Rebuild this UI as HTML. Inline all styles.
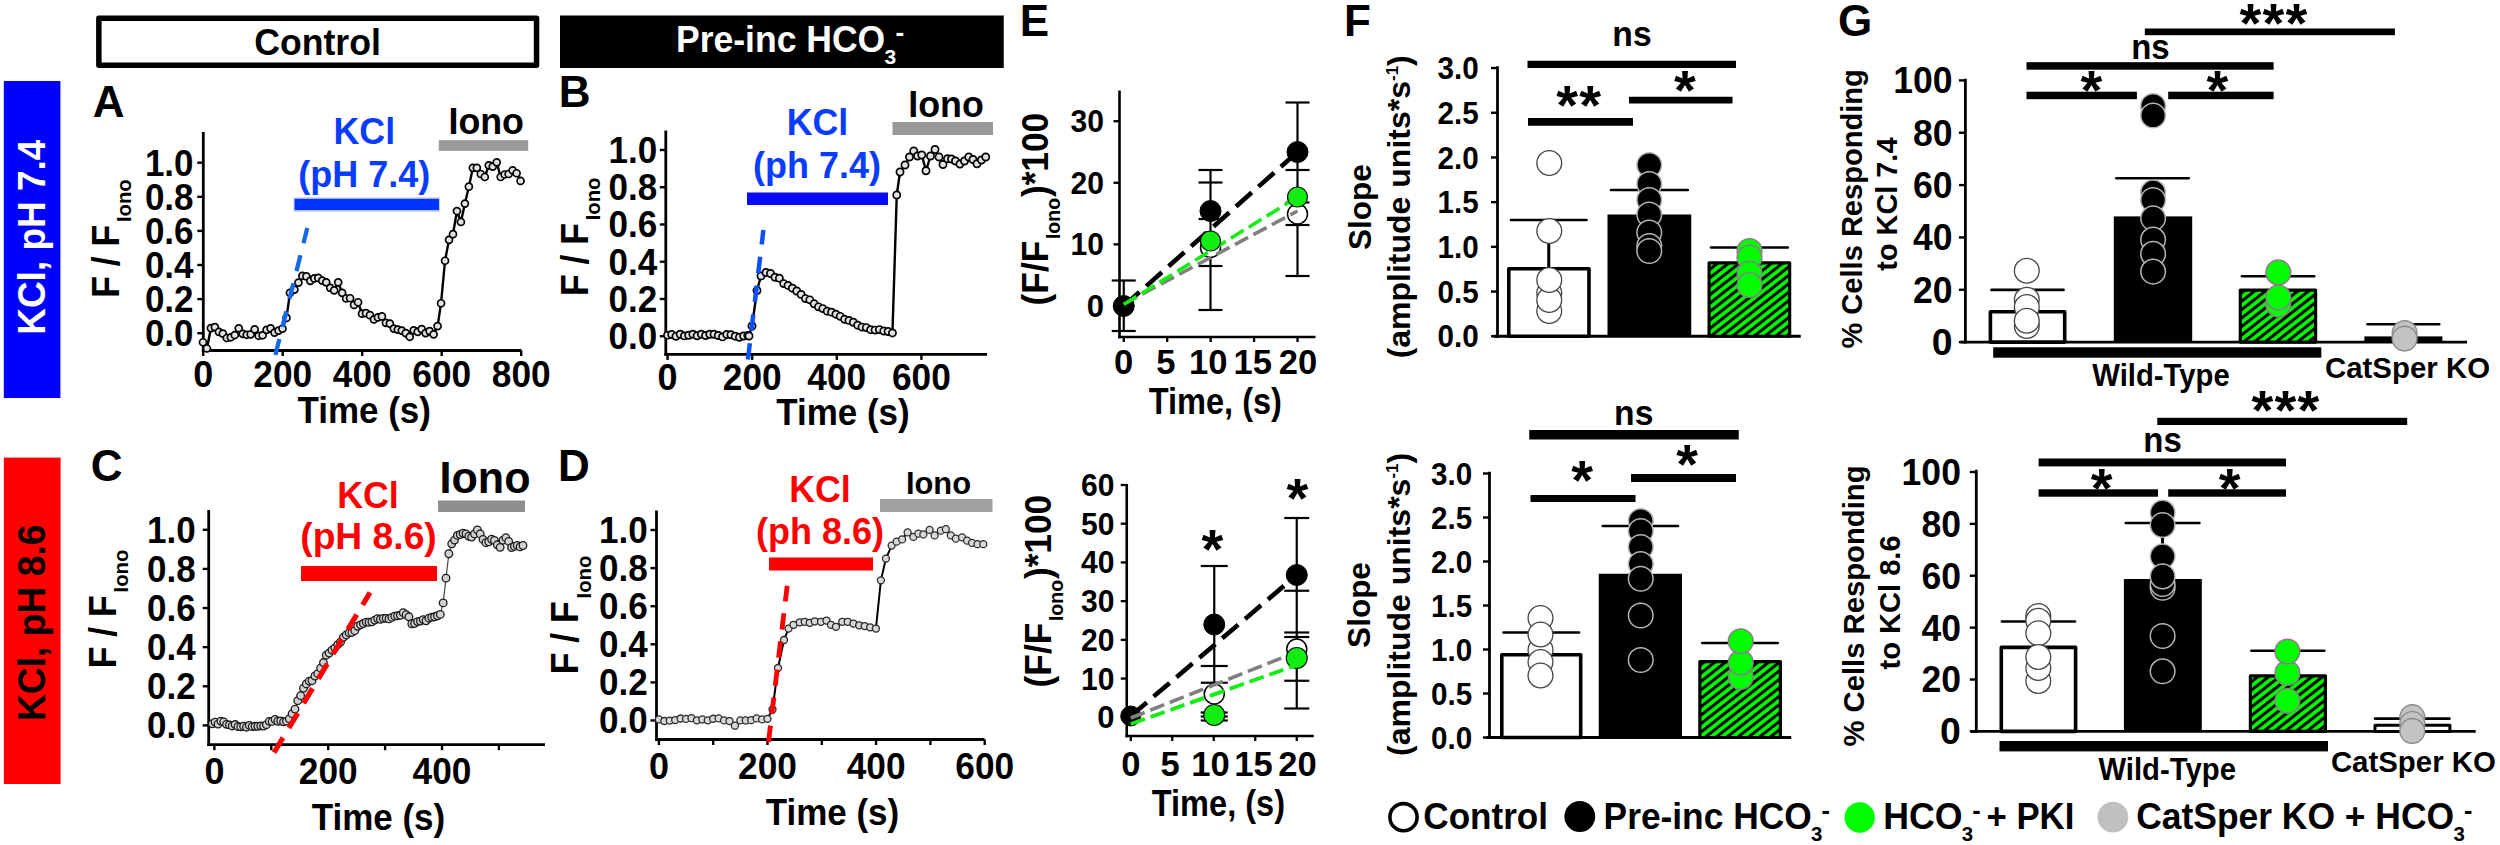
<!DOCTYPE html>
<html lang="en"><head><meta charset="utf-8"><title>Figure</title>
<style>
html,body{margin:0;padding:0;background:#fff;}
body{width:2500px;height:845px;overflow:hidden;}
svg{display:block;font-family:'Liberation Sans', sans-serif;}
text{font-family:'Liberation Sans', sans-serif;}
</style></head><body>
<svg width="2500" height="845" viewBox="0 0 2500 845">
<defs>
<pattern id="hatch" width="6.65" height="6.65" patternUnits="userSpaceOnUse" patternTransform="rotate(-38)">
<rect x="0" y="0" width="6.65" height="6.65" fill="#00fd00"/>
<rect x="0" y="0" width="6.65" height="3" fill="#000"/>
</pattern>
</defs>
<rect x="0" y="0" width="2500" height="845" fill="#fff"/>
<rect x="98.85" y="18.25" width="437.7" height="47" fill="#fff" stroke="#000" stroke-width="5.5" stroke-linejoin="round"/>
<text x="317.5" y="54.7" font-size="36" text-anchor="middle" fill="#000" font-weight="bold" textLength="126.69" lengthAdjust="spacingAndGlyphs">Control</text>
<rect x="560" y="15.5" width="443.75" height="52.5" fill="#000"/>
<text x="676" y="51.6" font-size="37" font-weight="bold" fill="#fff" textLength="209.22" lengthAdjust="spacingAndGlyphs">Pre-inc HCO</text>
<text x="884.62" y="64.2" font-size="21" font-weight="bold" fill="#fff">3</text>
<text x="895.4" y="41" font-size="26" font-weight="bold" fill="#fff">-</text>
<rect x="3.8" y="81" width="56.6" height="317" fill="#0000fe"/>
<text x="0" y="0" font-size="38" text-anchor="middle" fill="#fff" font-weight="bold" transform="translate(45.2,237.2) rotate(-90)" textLength="195.18" lengthAdjust="spacingAndGlyphs">KCl, pH 7.4</text>
<rect x="3.8" y="457.6" width="56.8" height="326.4" fill="#fe0000"/>
<text x="0" y="0" font-size="38" text-anchor="middle" fill="#000" font-weight="bold" transform="translate(45.4,622.8) rotate(-90)" textLength="196.58" lengthAdjust="spacingAndGlyphs">KCl, pH 8.6</text>
<text x="92.8" y="116.9" font-size="44" text-anchor="start" fill="#000" font-weight="bold">A</text>
<text x="558.8" y="106.6" font-size="44" text-anchor="start" fill="#000" font-weight="bold">B</text>
<text x="90.8" y="481.2" font-size="44" text-anchor="start" fill="#000" font-weight="bold">C</text>
<text x="558.1" y="480.7" font-size="44" text-anchor="start" fill="#000" font-weight="bold">D</text>
<text x="1019.8" y="35.8" font-size="44" text-anchor="start" fill="#000" font-weight="bold">E</text>
<text x="1343.9" y="35.5" font-size="44" text-anchor="start" fill="#000" font-weight="bold">F</text>
<text x="1838" y="35.5" font-size="44" text-anchor="start" fill="#000" font-weight="bold">G</text>
<line x1="203.3" y1="132" x2="203.3" y2="351.9" stroke="#000" stroke-width="2.8"/>
<line x1="201.9" y1="350.5" x2="521.5" y2="350.5" stroke="#000" stroke-width="2.8"/>
<line x1="197.3" y1="333.2" x2="203.3" y2="333.2" stroke="#000" stroke-width="2.4"/>
<text x="193.6" y="346.1" font-size="36.5" text-anchor="end" fill="#000" font-weight="bold" textLength="48.71" lengthAdjust="spacingAndGlyphs">0.0</text>
<line x1="197.3" y1="299.1" x2="203.3" y2="299.1" stroke="#000" stroke-width="2.4"/>
<text x="193.6" y="312" font-size="36.5" text-anchor="end" fill="#000" font-weight="bold" textLength="48.71" lengthAdjust="spacingAndGlyphs">0.2</text>
<line x1="197.3" y1="265" x2="203.3" y2="265" stroke="#000" stroke-width="2.4"/>
<text x="193.6" y="277.9" font-size="36.5" text-anchor="end" fill="#000" font-weight="bold" textLength="48.71" lengthAdjust="spacingAndGlyphs">0.4</text>
<line x1="197.3" y1="230.9" x2="203.3" y2="230.9" stroke="#000" stroke-width="2.4"/>
<text x="193.6" y="243.8" font-size="36.5" text-anchor="end" fill="#000" font-weight="bold" textLength="48.71" lengthAdjust="spacingAndGlyphs">0.6</text>
<line x1="197.3" y1="196.8" x2="203.3" y2="196.8" stroke="#000" stroke-width="2.4"/>
<text x="193.6" y="209.7" font-size="36.5" text-anchor="end" fill="#000" font-weight="bold" textLength="48.71" lengthAdjust="spacingAndGlyphs">0.8</text>
<line x1="197.3" y1="162.7" x2="203.3" y2="162.7" stroke="#000" stroke-width="2.4"/>
<text x="193.6" y="175.6" font-size="36.5" text-anchor="end" fill="#000" font-weight="bold" textLength="48.71" lengthAdjust="spacingAndGlyphs">1.0</text>
<line x1="203.2" y1="350.5" x2="203.2" y2="356" stroke="#000" stroke-width="2.4"/>
<line x1="282.7" y1="350.5" x2="282.7" y2="356" stroke="#000" stroke-width="2.4"/>
<line x1="362.2" y1="350.5" x2="362.2" y2="356" stroke="#000" stroke-width="2.4"/>
<line x1="441.7" y1="350.5" x2="441.7" y2="356" stroke="#000" stroke-width="2.4"/>
<line x1="521.2" y1="350.5" x2="521.2" y2="356" stroke="#000" stroke-width="2.4"/>
<text x="203.2" y="386.8" font-size="36" text-anchor="middle" fill="#000" font-weight="bold">0</text>
<text x="282.7" y="386.8" font-size="36" text-anchor="middle" fill="#000" font-weight="bold" textLength="58.86" lengthAdjust="spacingAndGlyphs">200</text>
<text x="362.2" y="386.8" font-size="36" text-anchor="middle" fill="#000" font-weight="bold" textLength="58.86" lengthAdjust="spacingAndGlyphs">400</text>
<text x="441.7" y="386.8" font-size="36" text-anchor="middle" fill="#000" font-weight="bold" textLength="58.86" lengthAdjust="spacingAndGlyphs">600</text>
<text x="521.2" y="386.8" font-size="36" text-anchor="middle" fill="#000" font-weight="bold" textLength="58.86" lengthAdjust="spacingAndGlyphs">800</text>
<text x="364.2" y="422.8" font-size="37" text-anchor="middle" fill="#000" font-weight="bold" textLength="133.42" lengthAdjust="spacingAndGlyphs">Time (s)</text>
<g transform="translate(118.8,297.8) rotate(-90)" font-weight="bold" fill="#000">
<text x="0" y="0" font-size="39" textLength="72.94" lengthAdjust="spacingAndGlyphs">F / F</text>
<text x="75.74" y="12.4" font-size="19.5" textLength="42.8" lengthAdjust="spacingAndGlyphs">Iono</text>
</g>
<text x="364.3" y="144.2" font-size="36.5" text-anchor="middle" fill="#0a3cff" font-weight="bold" textLength="61.6" lengthAdjust="spacingAndGlyphs">KCl</text>
<text x="364.3" y="187" font-size="36" text-anchor="middle" fill="#0a3cff" font-weight="bold">(pH 7.4)</text>
<rect x="293.5" y="197.2" width="146.5" height="14.8" fill="#c8d4ff"/>
<rect x="294.5" y="198.8" width="144.5" height="11.3" fill="#0035ff"/>
<text x="486.2" y="134.3" font-size="36.5" text-anchor="middle" fill="#000" font-weight="bold" textLength="75.49" lengthAdjust="spacingAndGlyphs">Iono</text>
<rect x="438.8" y="140.2" width="89.4" height="10.7" fill="#9a9a9a"/>
<polyline points="202.98,342.25 206.96,348.46 210.93,328.08 214.91,327.09 218.89,331.81 222.86,333.55 226.84,338.02 230.82,337.28 234.79,335.04 238.77,328.33 242.74,333.8 246.72,334.79 250.7,334.3 254.67,329.33 258.65,335.79 262.62,335.29 266.6,329.82 270.58,328.33 274.55,332.56 278.53,330.57 282.5,328.58 286.48,317.9 289.96,292.8 294.43,289.57 298.41,282.61 302.39,275.9 306.36,276.39 310.34,280.87 314.31,278.38 318.29,277.89 322.27,280.62 326.24,282.36 330.22,287.83 334.19,290.31 338.17,282.36 342.15,292.8 346.12,298.51 350.1,298.26 354.08,304.97 358.05,302.24 362.03,313.67 366,313.17 369.98,315.16 373.96,319.39 377.93,317.4 381.91,316.4 385.88,322.87 389.86,323.61 393.84,328.58 397.81,329.57 401.79,330.57 405.77,333.05 409.74,336.78 413.72,330.32 417.69,331.81 421.67,329.08 425.65,333.05 429.62,331.07 433.6,334.3 437.57,326.1 441.05,303.23 445.03,260.74 449.01,239.86 452.98,234.15 456.96,211.04 460.93,221.97 464.91,203.58 468.89,186.68 472.86,167.8 476.84,167.8 480.82,174.01 484.79,176.99 488.77,165.31 492.74,166.55 496.72,162.33 500.7,176.99 504.67,174.51 508.65,174.01 512.62,170.28 516.6,173.26 520.58,180.97" fill="none" stroke="#000" stroke-width="2.4" stroke-linejoin="round"/>
<g fill="#e2e2e2" stroke="#000" stroke-width="1.7">
<circle cx="202.98" cy="342.25" r="3.5"/>
<circle cx="206.96" cy="348.46" r="3.5"/>
<circle cx="210.93" cy="328.08" r="3.5"/>
<circle cx="214.91" cy="327.09" r="3.5"/>
<circle cx="218.89" cy="331.81" r="3.5"/>
<circle cx="222.86" cy="333.55" r="3.5"/>
<circle cx="226.84" cy="338.02" r="3.5"/>
<circle cx="230.82" cy="337.28" r="3.5"/>
<circle cx="234.79" cy="335.04" r="3.5"/>
<circle cx="238.77" cy="328.33" r="3.5"/>
<circle cx="242.74" cy="333.8" r="3.5"/>
<circle cx="246.72" cy="334.79" r="3.5"/>
<circle cx="250.7" cy="334.3" r="3.5"/>
<circle cx="254.67" cy="329.33" r="3.5"/>
<circle cx="258.65" cy="335.79" r="3.5"/>
<circle cx="262.62" cy="335.29" r="3.5"/>
<circle cx="266.6" cy="329.82" r="3.5"/>
<circle cx="270.58" cy="328.33" r="3.5"/>
<circle cx="274.55" cy="332.56" r="3.5"/>
<circle cx="278.53" cy="330.57" r="3.5"/>
<circle cx="282.5" cy="328.58" r="3.5"/>
<circle cx="286.48" cy="317.9" r="3.5"/>
<circle cx="289.96" cy="292.8" r="3.5"/>
<circle cx="294.43" cy="289.57" r="3.5"/>
<circle cx="298.41" cy="282.61" r="3.5"/>
<circle cx="302.39" cy="275.9" r="3.5"/>
<circle cx="306.36" cy="276.39" r="3.5"/>
<circle cx="310.34" cy="280.87" r="3.5"/>
<circle cx="314.31" cy="278.38" r="3.5"/>
<circle cx="318.29" cy="277.89" r="3.5"/>
<circle cx="322.27" cy="280.62" r="3.5"/>
<circle cx="326.24" cy="282.36" r="3.5"/>
<circle cx="330.22" cy="287.83" r="3.5"/>
<circle cx="334.19" cy="290.31" r="3.5"/>
<circle cx="338.17" cy="282.36" r="3.5"/>
<circle cx="342.15" cy="292.8" r="3.5"/>
<circle cx="346.12" cy="298.51" r="3.5"/>
<circle cx="350.1" cy="298.26" r="3.5"/>
<circle cx="354.08" cy="304.97" r="3.5"/>
<circle cx="358.05" cy="302.24" r="3.5"/>
<circle cx="362.03" cy="313.67" r="3.5"/>
<circle cx="366" cy="313.17" r="3.5"/>
<circle cx="369.98" cy="315.16" r="3.5"/>
<circle cx="373.96" cy="319.39" r="3.5"/>
<circle cx="377.93" cy="317.4" r="3.5"/>
<circle cx="381.91" cy="316.4" r="3.5"/>
<circle cx="385.88" cy="322.87" r="3.5"/>
<circle cx="389.86" cy="323.61" r="3.5"/>
<circle cx="393.84" cy="328.58" r="3.5"/>
<circle cx="397.81" cy="329.57" r="3.5"/>
<circle cx="401.79" cy="330.57" r="3.5"/>
<circle cx="405.77" cy="333.05" r="3.5"/>
<circle cx="409.74" cy="336.78" r="3.5"/>
<circle cx="413.72" cy="330.32" r="3.5"/>
<circle cx="417.69" cy="331.81" r="3.5"/>
<circle cx="421.67" cy="329.08" r="3.5"/>
<circle cx="425.65" cy="333.05" r="3.5"/>
<circle cx="429.62" cy="331.07" r="3.5"/>
<circle cx="433.6" cy="334.3" r="3.5"/>
<circle cx="437.57" cy="326.1" r="3.5"/>
<circle cx="441.05" cy="303.23" r="3.5"/>
<circle cx="445.03" cy="260.74" r="3.5"/>
<circle cx="449.01" cy="239.86" r="3.5"/>
<circle cx="452.98" cy="234.15" r="3.5"/>
<circle cx="456.96" cy="211.04" r="3.5"/>
<circle cx="460.93" cy="221.97" r="3.5"/>
<circle cx="464.91" cy="203.58" r="3.5"/>
<circle cx="468.89" cy="186.68" r="3.5"/>
<circle cx="472.86" cy="167.8" r="3.5"/>
<circle cx="476.84" cy="167.8" r="3.5"/>
<circle cx="480.82" cy="174.01" r="3.5"/>
<circle cx="484.79" cy="176.99" r="3.5"/>
<circle cx="488.77" cy="165.31" r="3.5"/>
<circle cx="492.74" cy="166.55" r="3.5"/>
<circle cx="496.72" cy="162.33" r="3.5"/>
<circle cx="500.7" cy="176.99" r="3.5"/>
<circle cx="504.67" cy="174.51" r="3.5"/>
<circle cx="508.65" cy="174.01" r="3.5"/>
<circle cx="512.62" cy="170.28" r="3.5"/>
<circle cx="516.6" cy="173.26" r="3.5"/>
<circle cx="520.58" cy="180.97" r="3.5"/>
</g>
<line x1="275.4" y1="354.9" x2="307.3" y2="228" stroke="#1468ee" stroke-width="4.3" stroke-dasharray="16.3 12.5"/>
<line x1="665.8" y1="130.5" x2="665.8" y2="355.8" stroke="#000" stroke-width="2.8"/>
<line x1="664.4" y1="354.4" x2="987" y2="354.4" stroke="#000" stroke-width="2.8"/>
<line x1="659.8" y1="336.2" x2="665.8" y2="336.2" stroke="#000" stroke-width="2.4"/>
<text x="657.3" y="349.1" font-size="36.5" text-anchor="end" fill="#000" font-weight="bold" textLength="48.71" lengthAdjust="spacingAndGlyphs">0.0</text>
<line x1="659.8" y1="298.96" x2="665.8" y2="298.96" stroke="#000" stroke-width="2.4"/>
<text x="657.3" y="311.86" font-size="36.5" text-anchor="end" fill="#000" font-weight="bold" textLength="48.71" lengthAdjust="spacingAndGlyphs">0.2</text>
<line x1="659.8" y1="261.72" x2="665.8" y2="261.72" stroke="#000" stroke-width="2.4"/>
<text x="657.3" y="274.62" font-size="36.5" text-anchor="end" fill="#000" font-weight="bold" textLength="48.71" lengthAdjust="spacingAndGlyphs">0.4</text>
<line x1="659.8" y1="224.48" x2="665.8" y2="224.48" stroke="#000" stroke-width="2.4"/>
<text x="657.3" y="237.38" font-size="36.5" text-anchor="end" fill="#000" font-weight="bold" textLength="48.71" lengthAdjust="spacingAndGlyphs">0.6</text>
<line x1="659.8" y1="187.24" x2="665.8" y2="187.24" stroke="#000" stroke-width="2.4"/>
<text x="657.3" y="200.14" font-size="36.5" text-anchor="end" fill="#000" font-weight="bold" textLength="48.71" lengthAdjust="spacingAndGlyphs">0.8</text>
<line x1="659.8" y1="150" x2="665.8" y2="150" stroke="#000" stroke-width="2.4"/>
<text x="657.3" y="162.9" font-size="36.5" text-anchor="end" fill="#000" font-weight="bold" textLength="48.71" lengthAdjust="spacingAndGlyphs">1.0</text>
<line x1="667.6" y1="354.4" x2="667.6" y2="359.9" stroke="#000" stroke-width="2.4"/>
<line x1="752.2" y1="354.4" x2="752.2" y2="359.9" stroke="#000" stroke-width="2.4"/>
<line x1="836.8" y1="354.4" x2="836.8" y2="359.9" stroke="#000" stroke-width="2.4"/>
<line x1="921.4" y1="354.4" x2="921.4" y2="359.9" stroke="#000" stroke-width="2.4"/>
<text x="667.6" y="389.5" font-size="36" text-anchor="middle" fill="#000" font-weight="bold">0</text>
<text x="752.2" y="389.5" font-size="36" text-anchor="middle" fill="#000" font-weight="bold" textLength="58.86" lengthAdjust="spacingAndGlyphs">200</text>
<text x="836.8" y="389.5" font-size="36" text-anchor="middle" fill="#000" font-weight="bold" textLength="58.86" lengthAdjust="spacingAndGlyphs">400</text>
<text x="921.4" y="389.5" font-size="36" text-anchor="middle" fill="#000" font-weight="bold" textLength="58.86" lengthAdjust="spacingAndGlyphs">600</text>
<text x="843" y="425" font-size="37" text-anchor="middle" fill="#000" font-weight="bold" textLength="133.42" lengthAdjust="spacingAndGlyphs">Time (s)</text>
<g transform="translate(587.9,296.1) rotate(-90)" font-weight="bold" fill="#000">
<text x="0" y="0" font-size="39" textLength="72.94" lengthAdjust="spacingAndGlyphs">F / F</text>
<text x="75.74" y="12.4" font-size="19.5" textLength="42.8" lengthAdjust="spacingAndGlyphs">Iono</text>
</g>
<text x="817.5" y="135" font-size="36.5" text-anchor="middle" fill="#0a3cff" font-weight="bold" textLength="61.6" lengthAdjust="spacingAndGlyphs">KCl</text>
<text x="817" y="178" font-size="36" text-anchor="middle" fill="#0a3cff" font-weight="bold">(ph 7.4)</text>
<rect x="747" y="192.5" width="141" height="12.5" fill="#0a0af5"/>
<text x="946" y="117" font-size="36.5" text-anchor="middle" fill="#000" font-weight="bold" textLength="75.49" lengthAdjust="spacingAndGlyphs">Iono</text>
<rect x="892.5" y="122" width="100.5" height="13" fill="#999"/>
<polyline points="667.5,335.13 671.73,334.53 675.96,336.28 680.19,334.25 684.42,335.88 688.65,335.28 692.88,334.2 697.11,335.78 701.34,334.13 705.57,335.52 709.8,334.24 714.03,334.32 718.26,335.49 722.49,336.89 726.72,334.43 730.95,334.78 735.18,336.2 739.41,337.32 743.64,336.02 747.87,335.39 749,336 752,326 757,290.5 761,276 766,272.5 770.5,273.5 775,277.24 779.35,278.16 783.7,283.6 788.05,285.46 792.4,288.18 796.75,291.01 801.1,294.4 805.45,298.62 809.8,299.87 814.15,303.81 818.5,306.86 822.85,308.59 827.2,311.22 831.55,312.14 835.9,314.21 840.25,316.34 844.6,319.31 848.95,320.39 853.3,322.23 857.65,325.2 862,327.12 866.35,327.62 870.7,329.63 875.05,330.11 879.4,329.59 883.75,331.03 888.1,331.48 892.45,332.97 896.75,195 900,172 905,165 909.5,157 913.75,151 917.5,156 921.75,155 926,170.75 930.5,156 935,149.5 939,157 943,164.5 947.5,158.75 951.5,159 955.5,161 960,164 964.5,161 968.75,157 973,159.5 977,163.75 981.5,160 985.75,157" fill="none" stroke="#000" stroke-width="2.4" stroke-linejoin="round"/>
<g fill="#e2e2e2" stroke="#000" stroke-width="1.7">
<circle cx="667.5" cy="335.13" r="3.6"/>
<circle cx="671.73" cy="334.53" r="3.6"/>
<circle cx="675.96" cy="336.28" r="3.6"/>
<circle cx="680.19" cy="334.25" r="3.6"/>
<circle cx="684.42" cy="335.88" r="3.6"/>
<circle cx="688.65" cy="335.28" r="3.6"/>
<circle cx="692.88" cy="334.2" r="3.6"/>
<circle cx="697.11" cy="335.78" r="3.6"/>
<circle cx="701.34" cy="334.13" r="3.6"/>
<circle cx="705.57" cy="335.52" r="3.6"/>
<circle cx="709.8" cy="334.24" r="3.6"/>
<circle cx="714.03" cy="334.32" r="3.6"/>
<circle cx="718.26" cy="335.49" r="3.6"/>
<circle cx="722.49" cy="336.89" r="3.6"/>
<circle cx="726.72" cy="334.43" r="3.6"/>
<circle cx="730.95" cy="334.78" r="3.6"/>
<circle cx="735.18" cy="336.2" r="3.6"/>
<circle cx="739.41" cy="337.32" r="3.6"/>
<circle cx="743.64" cy="336.02" r="3.6"/>
<circle cx="747.87" cy="335.39" r="3.6"/>
<circle cx="749" cy="336" r="3.6"/>
<circle cx="752" cy="326" r="3.6"/>
<circle cx="757" cy="290.5" r="3.6"/>
<circle cx="761" cy="276" r="3.6"/>
<circle cx="766" cy="272.5" r="3.6"/>
<circle cx="770.5" cy="273.5" r="3.6"/>
<circle cx="775" cy="277.24" r="3.6"/>
<circle cx="779.35" cy="278.16" r="3.6"/>
<circle cx="783.7" cy="283.6" r="3.6"/>
<circle cx="788.05" cy="285.46" r="3.6"/>
<circle cx="792.4" cy="288.18" r="3.6"/>
<circle cx="796.75" cy="291.01" r="3.6"/>
<circle cx="801.1" cy="294.4" r="3.6"/>
<circle cx="805.45" cy="298.62" r="3.6"/>
<circle cx="809.8" cy="299.87" r="3.6"/>
<circle cx="814.15" cy="303.81" r="3.6"/>
<circle cx="818.5" cy="306.86" r="3.6"/>
<circle cx="822.85" cy="308.59" r="3.6"/>
<circle cx="827.2" cy="311.22" r="3.6"/>
<circle cx="831.55" cy="312.14" r="3.6"/>
<circle cx="835.9" cy="314.21" r="3.6"/>
<circle cx="840.25" cy="316.34" r="3.6"/>
<circle cx="844.6" cy="319.31" r="3.6"/>
<circle cx="848.95" cy="320.39" r="3.6"/>
<circle cx="853.3" cy="322.23" r="3.6"/>
<circle cx="857.65" cy="325.2" r="3.6"/>
<circle cx="862" cy="327.12" r="3.6"/>
<circle cx="866.35" cy="327.62" r="3.6"/>
<circle cx="870.7" cy="329.63" r="3.6"/>
<circle cx="875.05" cy="330.11" r="3.6"/>
<circle cx="879.4" cy="329.59" r="3.6"/>
<circle cx="883.75" cy="331.03" r="3.6"/>
<circle cx="888.1" cy="331.48" r="3.6"/>
<circle cx="892.45" cy="332.97" r="3.6"/>
<circle cx="896.75" cy="195" r="3.6"/>
<circle cx="900" cy="172" r="3.6"/>
<circle cx="905" cy="165" r="3.6"/>
<circle cx="909.5" cy="157" r="3.6"/>
<circle cx="913.75" cy="151" r="3.6"/>
<circle cx="917.5" cy="156" r="3.6"/>
<circle cx="921.75" cy="155" r="3.6"/>
<circle cx="926" cy="170.75" r="3.6"/>
<circle cx="930.5" cy="156" r="3.6"/>
<circle cx="935" cy="149.5" r="3.6"/>
<circle cx="939" cy="157" r="3.6"/>
<circle cx="943" cy="164.5" r="3.6"/>
<circle cx="947.5" cy="158.75" r="3.6"/>
<circle cx="951.5" cy="159" r="3.6"/>
<circle cx="955.5" cy="161" r="3.6"/>
<circle cx="960" cy="164" r="3.6"/>
<circle cx="964.5" cy="161" r="3.6"/>
<circle cx="968.75" cy="157" r="3.6"/>
<circle cx="973" cy="159.5" r="3.6"/>
<circle cx="977" cy="163.75" r="3.6"/>
<circle cx="981.5" cy="160" r="3.6"/>
<circle cx="985.75" cy="157" r="3.6"/>
</g>
<line x1="747.9" y1="359.6" x2="763.4" y2="230" stroke="#0a50ff" stroke-width="4.5" stroke-dasharray="16.5 12.5"/>
<line x1="208.7" y1="510" x2="208.7" y2="746.1" stroke="#000" stroke-width="2.8"/>
<line x1="207.3" y1="744.7" x2="545" y2="744.7" stroke="#000" stroke-width="2.8"/>
<line x1="202.7" y1="725.4" x2="208.7" y2="725.4" stroke="#000" stroke-width="2.4"/>
<text x="195.8" y="738.3" font-size="36.5" text-anchor="end" fill="#000" font-weight="bold" textLength="48.71" lengthAdjust="spacingAndGlyphs">0.0</text>
<line x1="202.7" y1="686.28" x2="208.7" y2="686.28" stroke="#000" stroke-width="2.4"/>
<text x="195.8" y="699.18" font-size="36.5" text-anchor="end" fill="#000" font-weight="bold" textLength="48.71" lengthAdjust="spacingAndGlyphs">0.2</text>
<line x1="202.7" y1="647.16" x2="208.7" y2="647.16" stroke="#000" stroke-width="2.4"/>
<text x="195.8" y="660.06" font-size="36.5" text-anchor="end" fill="#000" font-weight="bold" textLength="48.71" lengthAdjust="spacingAndGlyphs">0.4</text>
<line x1="202.7" y1="608.04" x2="208.7" y2="608.04" stroke="#000" stroke-width="2.4"/>
<text x="195.8" y="620.94" font-size="36.5" text-anchor="end" fill="#000" font-weight="bold" textLength="48.71" lengthAdjust="spacingAndGlyphs">0.6</text>
<line x1="202.7" y1="568.92" x2="208.7" y2="568.92" stroke="#000" stroke-width="2.4"/>
<text x="195.8" y="581.82" font-size="36.5" text-anchor="end" fill="#000" font-weight="bold" textLength="48.71" lengthAdjust="spacingAndGlyphs">0.8</text>
<line x1="202.7" y1="529.8" x2="208.7" y2="529.8" stroke="#000" stroke-width="2.4"/>
<text x="195.8" y="542.7" font-size="36.5" text-anchor="end" fill="#000" font-weight="bold" textLength="48.71" lengthAdjust="spacingAndGlyphs">1.0</text>
<line x1="214.4" y1="744.7" x2="214.4" y2="750.2" stroke="#000" stroke-width="2.4"/>
<line x1="271.3" y1="744.7" x2="271.3" y2="750.2" stroke="#000" stroke-width="2.4"/>
<line x1="328.2" y1="744.7" x2="328.2" y2="750.2" stroke="#000" stroke-width="2.4"/>
<line x1="385.1" y1="744.7" x2="385.1" y2="750.2" stroke="#000" stroke-width="2.4"/>
<line x1="442" y1="744.7" x2="442" y2="750.2" stroke="#000" stroke-width="2.4"/>
<line x1="498.9" y1="744.7" x2="498.9" y2="750.2" stroke="#000" stroke-width="2.4"/>
<text x="214.4" y="783.5" font-size="36" text-anchor="middle" fill="#000" font-weight="bold">0</text>
<text x="328.2" y="783.5" font-size="36" text-anchor="middle" fill="#000" font-weight="bold" textLength="58.86" lengthAdjust="spacingAndGlyphs">200</text>
<text x="442" y="783.5" font-size="36" text-anchor="middle" fill="#000" font-weight="bold" textLength="58.86" lengthAdjust="spacingAndGlyphs">400</text>
<text x="378.5" y="830" font-size="37" text-anchor="middle" fill="#000" font-weight="bold" textLength="133.42" lengthAdjust="spacingAndGlyphs">Time (s)</text>
<g transform="translate(115.8,668.2) rotate(-90)" font-weight="bold" fill="#000">
<text x="0" y="0" font-size="39" textLength="72.94" lengthAdjust="spacingAndGlyphs">F / F</text>
<text x="75.74" y="12.4" font-size="19.5" textLength="42.8" lengthAdjust="spacingAndGlyphs">Iono</text>
</g>
<text x="368" y="507.5" font-size="36.5" text-anchor="middle" fill="#fe0000" font-weight="bold" textLength="61.6" lengthAdjust="spacingAndGlyphs">KCl</text>
<text x="368.5" y="548.5" font-size="36.5" text-anchor="middle" fill="#fe0000" font-weight="bold" textLength="136.52" lengthAdjust="spacingAndGlyphs">(pH 8.6)</text>
<rect x="301" y="566" width="136" height="15" fill="#fe0000"/>
<text x="485" y="492.5" font-size="44" text-anchor="middle" fill="#000" font-weight="bold" textLength="91" lengthAdjust="spacingAndGlyphs">Iono</text>
<rect x="438" y="500.5" width="87" height="11.5" fill="#8e8e8e"/>
<polyline points="212.3,723.73 215.15,722.1 218,724.09 220.85,721.1 223.7,721.84 226.55,724.37 229.4,724.89 232.25,725.96 235.1,724.53 237.95,726.54 240.8,726.85 243.65,726.23 246.5,727.2 249.35,725.4 252.2,726.62 255.05,726.3 257.9,726.26 260.75,725.86 263.6,726.09 266.45,724.64 269.3,721.35 272.15,721.41 275,719.33 277.85,721.23 280.7,720.91 283.55,721.86 286.4,721.17 289.25,718.83 292.1,713.68 294.95,709.1 297.8,700.72 300.65,695.65 303.5,688.24 306.35,683.94 309.2,681.09 312.05,680.69 314.9,675.98 317.75,673.69 320.6,668.18 323.45,662.57 326.3,655.19 329.15,653.07 332,650.09 334.85,647.86 337.7,644.72 340.55,642.01 343.4,637.29 346.25,634.95 349.1,632.78 351.95,632.46 354.8,630.7 357.65,626.24 360.5,624.84 363.35,623.53 366.2,622.1 369.05,622.21 371.9,621.86 374.75,620.12 377.6,618.61 380.45,619.24 383.3,618.4 386.15,618.34 389,618.9 391.85,617.38 394.7,616.14 397.55,615.79 400.4,615.3 403.25,612.63 406.1,614.66 408.95,616.8 411.8,623.73 414.65,623.45 417.5,621.6 420.35,621.08 423.2,619.59 426.05,620.75 428.9,618.21 431.75,617.3 434.6,616.82 437.45,615.75 440.3,614.44 443.15,602.92 446,578.13 448.85,553.74 451.7,543.79 454.55,540.11 457.4,535.4 460.25,534.49 463.1,533.23 465.95,533.83 468.8,536.24 471.65,537.05 474.5,533.88 477.35,529.89 480.2,533.91 483.05,539.39 485.9,542.72 488.75,541.77 491.6,539.27 494.45,540.51 497.3,544.78 500.15,547.37 503,540.2 505.85,537.64 508.7,541.39 511.55,547.5 514.4,546.39 517.25,545.4 520.1,546.9 522.95,545.48" fill="none" stroke="#444" stroke-width="1.2" stroke-linejoin="round"/>
<g fill="#d0d0d0" stroke="#1a1a1a" stroke-width="1.3">
<circle cx="212.3" cy="723.73" r="3.8"/>
<circle cx="215.15" cy="722.1" r="3.8"/>
<circle cx="218" cy="724.09" r="3.8"/>
<circle cx="220.85" cy="721.1" r="3.8"/>
<circle cx="223.7" cy="721.84" r="3.8"/>
<circle cx="226.55" cy="724.37" r="3.8"/>
<circle cx="229.4" cy="724.89" r="3.8"/>
<circle cx="232.25" cy="725.96" r="3.8"/>
<circle cx="235.1" cy="724.53" r="3.8"/>
<circle cx="237.95" cy="726.54" r="3.8"/>
<circle cx="240.8" cy="726.85" r="3.8"/>
<circle cx="243.65" cy="726.23" r="3.8"/>
<circle cx="246.5" cy="727.2" r="3.8"/>
<circle cx="249.35" cy="725.4" r="3.8"/>
<circle cx="252.2" cy="726.62" r="3.8"/>
<circle cx="255.05" cy="726.3" r="3.8"/>
<circle cx="257.9" cy="726.26" r="3.8"/>
<circle cx="260.75" cy="725.86" r="3.8"/>
<circle cx="263.6" cy="726.09" r="3.8"/>
<circle cx="266.45" cy="724.64" r="3.8"/>
<circle cx="269.3" cy="721.35" r="3.8"/>
<circle cx="272.15" cy="721.41" r="3.8"/>
<circle cx="275" cy="719.33" r="3.8"/>
<circle cx="277.85" cy="721.23" r="3.8"/>
<circle cx="280.7" cy="720.91" r="3.8"/>
<circle cx="283.55" cy="721.86" r="3.8"/>
<circle cx="286.4" cy="721.17" r="3.8"/>
<circle cx="289.25" cy="718.83" r="3.8"/>
<circle cx="292.1" cy="713.68" r="3.8"/>
<circle cx="294.95" cy="709.1" r="3.8"/>
<circle cx="297.8" cy="700.72" r="3.8"/>
<circle cx="300.65" cy="695.65" r="3.8"/>
<circle cx="303.5" cy="688.24" r="3.8"/>
<circle cx="306.35" cy="683.94" r="3.8"/>
<circle cx="309.2" cy="681.09" r="3.8"/>
<circle cx="312.05" cy="680.69" r="3.8"/>
<circle cx="314.9" cy="675.98" r="3.8"/>
<circle cx="317.75" cy="673.69" r="3.8"/>
<circle cx="320.6" cy="668.18" r="3.8"/>
<circle cx="323.45" cy="662.57" r="3.8"/>
<circle cx="326.3" cy="655.19" r="3.8"/>
<circle cx="329.15" cy="653.07" r="3.8"/>
<circle cx="332" cy="650.09" r="3.8"/>
<circle cx="334.85" cy="647.86" r="3.8"/>
<circle cx="337.7" cy="644.72" r="3.8"/>
<circle cx="340.55" cy="642.01" r="3.8"/>
<circle cx="343.4" cy="637.29" r="3.8"/>
<circle cx="346.25" cy="634.95" r="3.8"/>
<circle cx="349.1" cy="632.78" r="3.8"/>
<circle cx="351.95" cy="632.46" r="3.8"/>
<circle cx="354.8" cy="630.7" r="3.8"/>
<circle cx="357.65" cy="626.24" r="3.8"/>
<circle cx="360.5" cy="624.84" r="3.8"/>
<circle cx="363.35" cy="623.53" r="3.8"/>
<circle cx="366.2" cy="622.1" r="3.8"/>
<circle cx="369.05" cy="622.21" r="3.8"/>
<circle cx="371.9" cy="621.86" r="3.8"/>
<circle cx="374.75" cy="620.12" r="3.8"/>
<circle cx="377.6" cy="618.61" r="3.8"/>
<circle cx="380.45" cy="619.24" r="3.8"/>
<circle cx="383.3" cy="618.4" r="3.8"/>
<circle cx="386.15" cy="618.34" r="3.8"/>
<circle cx="389" cy="618.9" r="3.8"/>
<circle cx="391.85" cy="617.38" r="3.8"/>
<circle cx="394.7" cy="616.14" r="3.8"/>
<circle cx="397.55" cy="615.79" r="3.8"/>
<circle cx="400.4" cy="615.3" r="3.8"/>
<circle cx="403.25" cy="612.63" r="3.8"/>
<circle cx="406.1" cy="614.66" r="3.8"/>
<circle cx="408.95" cy="616.8" r="3.8"/>
<circle cx="411.8" cy="623.73" r="3.8"/>
<circle cx="414.65" cy="623.45" r="3.8"/>
<circle cx="417.5" cy="621.6" r="3.8"/>
<circle cx="420.35" cy="621.08" r="3.8"/>
<circle cx="423.2" cy="619.59" r="3.8"/>
<circle cx="426.05" cy="620.75" r="3.8"/>
<circle cx="428.9" cy="618.21" r="3.8"/>
<circle cx="431.75" cy="617.3" r="3.8"/>
<circle cx="434.6" cy="616.82" r="3.8"/>
<circle cx="437.45" cy="615.75" r="3.8"/>
<circle cx="440.3" cy="614.44" r="3.8"/>
<circle cx="443.15" cy="602.92" r="3.8"/>
<circle cx="446" cy="578.13" r="3.8"/>
<circle cx="448.85" cy="553.74" r="3.8"/>
<circle cx="451.7" cy="543.79" r="3.8"/>
<circle cx="454.55" cy="540.11" r="3.8"/>
<circle cx="457.4" cy="535.4" r="3.8"/>
<circle cx="460.25" cy="534.49" r="3.8"/>
<circle cx="463.1" cy="533.23" r="3.8"/>
<circle cx="465.95" cy="533.83" r="3.8"/>
<circle cx="468.8" cy="536.24" r="3.8"/>
<circle cx="471.65" cy="537.05" r="3.8"/>
<circle cx="474.5" cy="533.88" r="3.8"/>
<circle cx="477.35" cy="529.89" r="3.8"/>
<circle cx="480.2" cy="533.91" r="3.8"/>
<circle cx="483.05" cy="539.39" r="3.8"/>
<circle cx="485.9" cy="542.72" r="3.8"/>
<circle cx="488.75" cy="541.77" r="3.8"/>
<circle cx="491.6" cy="539.27" r="3.8"/>
<circle cx="494.45" cy="540.51" r="3.8"/>
<circle cx="497.3" cy="544.78" r="3.8"/>
<circle cx="500.15" cy="547.37" r="3.8"/>
<circle cx="503" cy="540.2" r="3.8"/>
<circle cx="505.85" cy="537.64" r="3.8"/>
<circle cx="508.7" cy="541.39" r="3.8"/>
<circle cx="511.55" cy="547.5" r="3.8"/>
<circle cx="514.4" cy="546.39" r="3.8"/>
<circle cx="517.25" cy="545.4" r="3.8"/>
<circle cx="520.1" cy="546.9" r="3.8"/>
<circle cx="522.95" cy="545.48" r="3.8"/>
</g>
<line x1="274.1" y1="752.5" x2="370" y2="592.5" stroke="#fe0000" stroke-width="5.2" stroke-dasharray="17.3 11.4"/>
<line x1="656.5" y1="510.5" x2="656.5" y2="740.9" stroke="#000" stroke-width="2.8"/>
<line x1="655.1" y1="739.5" x2="984.5" y2="739.5" stroke="#000" stroke-width="2.8"/>
<line x1="650.5" y1="720.5" x2="656.5" y2="720.5" stroke="#000" stroke-width="2.4"/>
<text x="647.8" y="733.4" font-size="36.5" text-anchor="end" fill="#000" font-weight="bold" textLength="48.71" lengthAdjust="spacingAndGlyphs">0.0</text>
<line x1="650.5" y1="682.4" x2="656.5" y2="682.4" stroke="#000" stroke-width="2.4"/>
<text x="647.8" y="695.3" font-size="36.5" text-anchor="end" fill="#000" font-weight="bold" textLength="48.71" lengthAdjust="spacingAndGlyphs">0.2</text>
<line x1="650.5" y1="644.3" x2="656.5" y2="644.3" stroke="#000" stroke-width="2.4"/>
<text x="647.8" y="657.2" font-size="36.5" text-anchor="end" fill="#000" font-weight="bold" textLength="48.71" lengthAdjust="spacingAndGlyphs">0.4</text>
<line x1="650.5" y1="606.2" x2="656.5" y2="606.2" stroke="#000" stroke-width="2.4"/>
<text x="647.8" y="619.1" font-size="36.5" text-anchor="end" fill="#000" font-weight="bold" textLength="48.71" lengthAdjust="spacingAndGlyphs">0.6</text>
<line x1="650.5" y1="568.1" x2="656.5" y2="568.1" stroke="#000" stroke-width="2.4"/>
<text x="647.8" y="581" font-size="36.5" text-anchor="end" fill="#000" font-weight="bold" textLength="48.71" lengthAdjust="spacingAndGlyphs">0.8</text>
<line x1="650.5" y1="530" x2="656.5" y2="530" stroke="#000" stroke-width="2.4"/>
<text x="647.8" y="542.9" font-size="36.5" text-anchor="end" fill="#000" font-weight="bold" textLength="48.71" lengthAdjust="spacingAndGlyphs">1.0</text>
<line x1="658.9" y1="739.5" x2="658.9" y2="745" stroke="#000" stroke-width="2.4"/>
<line x1="713.2" y1="739.5" x2="713.2" y2="745" stroke="#000" stroke-width="2.4"/>
<line x1="767.5" y1="739.5" x2="767.5" y2="745" stroke="#000" stroke-width="2.4"/>
<line x1="821.8" y1="739.5" x2="821.8" y2="745" stroke="#000" stroke-width="2.4"/>
<line x1="876.1" y1="739.5" x2="876.1" y2="745" stroke="#000" stroke-width="2.4"/>
<line x1="930.4" y1="739.5" x2="930.4" y2="745" stroke="#000" stroke-width="2.4"/>
<line x1="984.7" y1="739.5" x2="984.7" y2="745" stroke="#000" stroke-width="2.4"/>
<text x="658.9" y="779.2" font-size="36" text-anchor="middle" fill="#000" font-weight="bold">0</text>
<text x="767.5" y="779.2" font-size="36" text-anchor="middle" fill="#000" font-weight="bold" textLength="58.86" lengthAdjust="spacingAndGlyphs">200</text>
<text x="876.1" y="779.2" font-size="36" text-anchor="middle" fill="#000" font-weight="bold" textLength="58.86" lengthAdjust="spacingAndGlyphs">400</text>
<text x="984.7" y="779.2" font-size="36" text-anchor="middle" fill="#000" font-weight="bold" textLength="58.86" lengthAdjust="spacingAndGlyphs">600</text>
<text x="832.5" y="824.5" font-size="37" text-anchor="middle" fill="#000" font-weight="bold" textLength="133.42" lengthAdjust="spacingAndGlyphs">Time (s)</text>
<g transform="translate(578.4,674.2) rotate(-90)" font-weight="bold" fill="#000">
<text x="0" y="0" font-size="39" textLength="72.94" lengthAdjust="spacingAndGlyphs">F / F</text>
<text x="75.74" y="12.4" font-size="19.5" textLength="42.8" lengthAdjust="spacingAndGlyphs">Iono</text>
</g>
<text x="820" y="502" font-size="36.5" text-anchor="middle" fill="#fe0000" font-weight="bold" textLength="61.6" lengthAdjust="spacingAndGlyphs">KCl</text>
<text x="820" y="544" font-size="36" text-anchor="middle" fill="#fe0000" font-weight="bold">(ph 8.6)</text>
<rect x="769" y="557.5" width="104" height="13" fill="#fe0000"/>
<text x="938.5" y="494" font-size="31.5" text-anchor="middle" fill="#000" font-weight="bold" textLength="65.15" lengthAdjust="spacingAndGlyphs">Iono</text>
<rect x="880" y="499" width="112.5" height="13" fill="#a0a0a0"/>
<polyline points="658.9,719.45 664.33,721.02 669.76,720.62 675.19,720.04 680.62,718.51 686.05,718.88 691.48,718.18 696.91,720.3 702.34,719.46 707.77,720.33 713.2,718.75 718.63,718.38 724.06,720.44 729.49,721.05 734.92,725.7 740.35,720.42 745.78,720.46 751.21,720.19 756.64,718.39 762.07,719.41 767.5,718.84 772.5,709.5 778,668 784,640 788.5,628.54 793.5,624.8 799.74,622.3 804.74,621.8 809.73,622.8 814.73,621.3 820.97,621.8 826.46,620.55 830.96,624.8 835.95,626.79 842.2,621.8 847.69,621.8 853.44,623.55 859.18,625.29 864.68,626.04 870.17,627.29 875.91,628.54 880.91,580.34 885.9,558.61 891.65,545.62 896.64,541.63 902.14,539.38 907.63,532.39 913.38,536.88 918.37,533.64 923.37,534.39 929.61,529.89 934.61,535.38 940.85,530.64 945.84,529.14 950.84,535.38 955.83,538.63 962.08,537.38 967.07,540.63 972.07,542.88 977.56,544.13 983.31,544.13" fill="none" stroke="#000" stroke-width="2" stroke-linejoin="round"/>
<g fill="#d8d8d8" stroke="#2a2a2a" stroke-width="1.3">
<circle cx="658.9" cy="719.45" r="3.5"/>
<circle cx="664.33" cy="721.02" r="3.5"/>
<circle cx="669.76" cy="720.62" r="3.5"/>
<circle cx="675.19" cy="720.04" r="3.5"/>
<circle cx="680.62" cy="718.51" r="3.5"/>
<circle cx="686.05" cy="718.88" r="3.5"/>
<circle cx="691.48" cy="718.18" r="3.5"/>
<circle cx="696.91" cy="720.3" r="3.5"/>
<circle cx="702.34" cy="719.46" r="3.5"/>
<circle cx="707.77" cy="720.33" r="3.5"/>
<circle cx="713.2" cy="718.75" r="3.5"/>
<circle cx="718.63" cy="718.38" r="3.5"/>
<circle cx="724.06" cy="720.44" r="3.5"/>
<circle cx="729.49" cy="721.05" r="3.5"/>
<circle cx="734.92" cy="725.7" r="3.5"/>
<circle cx="740.35" cy="720.42" r="3.5"/>
<circle cx="745.78" cy="720.46" r="3.5"/>
<circle cx="751.21" cy="720.19" r="3.5"/>
<circle cx="756.64" cy="718.39" r="3.5"/>
<circle cx="762.07" cy="719.41" r="3.5"/>
<circle cx="767.5" cy="718.84" r="3.5"/>
<circle cx="772.5" cy="709.5" r="3.5"/>
<circle cx="778" cy="668" r="3.5"/>
<circle cx="784" cy="640" r="3.5"/>
<circle cx="788.5" cy="628.54" r="3.5"/>
<circle cx="793.5" cy="624.8" r="3.5"/>
<circle cx="799.74" cy="622.3" r="3.5"/>
<circle cx="804.74" cy="621.8" r="3.5"/>
<circle cx="809.73" cy="622.8" r="3.5"/>
<circle cx="814.73" cy="621.3" r="3.5"/>
<circle cx="820.97" cy="621.8" r="3.5"/>
<circle cx="826.46" cy="620.55" r="3.5"/>
<circle cx="830.96" cy="624.8" r="3.5"/>
<circle cx="835.95" cy="626.79" r="3.5"/>
<circle cx="842.2" cy="621.8" r="3.5"/>
<circle cx="847.69" cy="621.8" r="3.5"/>
<circle cx="853.44" cy="623.55" r="3.5"/>
<circle cx="859.18" cy="625.29" r="3.5"/>
<circle cx="864.68" cy="626.04" r="3.5"/>
<circle cx="870.17" cy="627.29" r="3.5"/>
<circle cx="875.91" cy="628.54" r="3.5"/>
<circle cx="880.91" cy="580.34" r="3.5"/>
<circle cx="885.9" cy="558.61" r="3.5"/>
<circle cx="891.65" cy="545.62" r="3.5"/>
<circle cx="896.64" cy="541.63" r="3.5"/>
<circle cx="902.14" cy="539.38" r="3.5"/>
<circle cx="907.63" cy="532.39" r="3.5"/>
<circle cx="913.38" cy="536.88" r="3.5"/>
<circle cx="918.37" cy="533.64" r="3.5"/>
<circle cx="923.37" cy="534.39" r="3.5"/>
<circle cx="929.61" cy="529.89" r="3.5"/>
<circle cx="934.61" cy="535.38" r="3.5"/>
<circle cx="940.85" cy="530.64" r="3.5"/>
<circle cx="945.84" cy="529.14" r="3.5"/>
<circle cx="950.84" cy="535.38" r="3.5"/>
<circle cx="955.83" cy="538.63" r="3.5"/>
<circle cx="962.08" cy="537.38" r="3.5"/>
<circle cx="967.07" cy="540.63" r="3.5"/>
<circle cx="972.07" cy="542.88" r="3.5"/>
<circle cx="977.56" cy="544.13" r="3.5"/>
<circle cx="983.31" cy="544.13" r="3.5"/>
</g>
<line x1="768.5" y1="742" x2="787.2" y2="585.7" stroke="#fe0000" stroke-width="4.8" stroke-dasharray="16.5 11.8"/>
<line x1="1119.5" y1="90.5" x2="1119.5" y2="338.3" stroke="#000" stroke-width="2.6"/>
<line x1="1118.2" y1="337" x2="1315.5" y2="337" stroke="#000" stroke-width="2.6"/>
<line x1="1113.5" y1="306" x2="1119.5" y2="306" stroke="#000" stroke-width="2.3"/>
<text x="1104" y="317" font-size="31" text-anchor="end" fill="#000" font-weight="bold">0</text>
<line x1="1113.5" y1="244.4" x2="1119.5" y2="244.4" stroke="#000" stroke-width="2.3"/>
<text x="1104" y="255.4" font-size="31" text-anchor="end" fill="#000" font-weight="bold" textLength="33.45" lengthAdjust="spacingAndGlyphs">10</text>
<line x1="1113.5" y1="182.8" x2="1119.5" y2="182.8" stroke="#000" stroke-width="2.3"/>
<text x="1104" y="193.8" font-size="31" text-anchor="end" fill="#000" font-weight="bold" textLength="33.45" lengthAdjust="spacingAndGlyphs">20</text>
<line x1="1113.5" y1="121.2" x2="1119.5" y2="121.2" stroke="#000" stroke-width="2.3"/>
<text x="1104" y="132.2" font-size="31" text-anchor="end" fill="#000" font-weight="bold" textLength="33.45" lengthAdjust="spacingAndGlyphs">30</text>
<line x1="1123.75" y1="337" x2="1123.75" y2="342" stroke="#000" stroke-width="2.3"/>
<line x1="1167.19" y1="337" x2="1167.19" y2="342" stroke="#000" stroke-width="2.3"/>
<line x1="1210.62" y1="337" x2="1210.62" y2="342" stroke="#000" stroke-width="2.3"/>
<line x1="1254.06" y1="337" x2="1254.06" y2="342" stroke="#000" stroke-width="2.3"/>
<line x1="1297.5" y1="337" x2="1297.5" y2="342" stroke="#000" stroke-width="2.3"/>
<text x="1123.6" y="373.5" font-size="34.6" text-anchor="middle" fill="#000" font-weight="bold">0</text>
<text x="1165.9" y="373.5" font-size="34.6" text-anchor="middle" fill="#000" font-weight="bold">5</text>
<text x="1208.3" y="373.5" font-size="34.6" text-anchor="middle" fill="#000" font-weight="bold">10</text>
<text x="1252.8" y="373.5" font-size="34.6" text-anchor="middle" fill="#000" font-weight="bold">15</text>
<text x="1298" y="373.5" font-size="34.6" text-anchor="middle" fill="#000" font-weight="bold">20</text>
<text x="1215.3" y="413.8" font-size="37" text-anchor="middle" fill="#000" font-weight="bold" textLength="133.29" lengthAdjust="spacingAndGlyphs">Time, (s)</text>
<g transform="translate(1047.8,305.4) rotate(-90)" font-weight="bold" fill="#000">
<text x="0" y="0" font-size="36" textLength="64.65" lengthAdjust="spacingAndGlyphs">(F/F</text>
<text x="66.35" y="11.7" font-size="19.5" textLength="41.15" lengthAdjust="spacingAndGlyphs">Iono</text>
<text x="108.3" y="0" font-size="36" textLength="84.34" lengthAdjust="spacingAndGlyphs">)*100</text>
</g>
<line x1="1123.75" y1="280.5" x2="1123.75" y2="331" stroke="#000" stroke-width="2.2"/>
<line x1="1111.75" y1="280.5" x2="1135.75" y2="280.5" stroke="#000" stroke-width="2.2"/>
<line x1="1111.75" y1="331" x2="1135.75" y2="331" stroke="#000" stroke-width="2.2"/>
<line x1="1210.5" y1="170" x2="1210.5" y2="310" stroke="#000" stroke-width="2.2"/>
<line x1="1198.5" y1="170" x2="1222.5" y2="170" stroke="#000" stroke-width="2.2"/>
<line x1="1198.5" y1="182.5" x2="1222.5" y2="182.5" stroke="#000" stroke-width="2.2"/>
<line x1="1198.5" y1="219" x2="1222.5" y2="219" stroke="#000" stroke-width="2.2"/>
<line x1="1198.5" y1="266" x2="1222.5" y2="266" stroke="#000" stroke-width="2.2"/>
<line x1="1198.5" y1="310" x2="1222.5" y2="310" stroke="#000" stroke-width="2.2"/>
<line x1="1297.5" y1="102.5" x2="1297.5" y2="276" stroke="#000" stroke-width="2.2"/>
<line x1="1285.5" y1="102.5" x2="1309.5" y2="102.5" stroke="#000" stroke-width="2.2"/>
<line x1="1285.5" y1="170" x2="1309.5" y2="170" stroke="#000" stroke-width="2.2"/>
<line x1="1285.5" y1="202.5" x2="1309.5" y2="202.5" stroke="#000" stroke-width="2.2"/>
<line x1="1285.5" y1="225" x2="1309.5" y2="225" stroke="#000" stroke-width="2.2"/>
<line x1="1285.5" y1="276" x2="1309.5" y2="276" stroke="#000" stroke-width="2.2"/>
<circle cx="1123.75" cy="306" r="10.5" fill="#000" stroke="#000" stroke-width="1"/>
<circle cx="1210.5" cy="247.5" r="10" fill="#fff" stroke="#000" stroke-width="1.5"/>
<circle cx="1297.5" cy="214" r="10" fill="#fff" stroke="#000" stroke-width="1.5"/>
<line x1="1123.75" y1="304" x2="1297.5" y2="211" stroke="#808080" stroke-width="3.6" stroke-dasharray="15 6"/>
<circle cx="1210.5" cy="211" r="10.5" fill="#000" stroke="#000" stroke-width="1"/>
<circle cx="1297.5" cy="152" r="10.5" fill="#000" stroke="#000" stroke-width="1"/>
<line x1="1123.75" y1="306" x2="1297.5" y2="152" stroke="#000" stroke-width="4.6" stroke-dasharray="21 9"/>
<line x1="1123.75" y1="304.5" x2="1297.5" y2="197" stroke="#12ee12" stroke-width="3.6" stroke-dasharray="15 6"/>
<circle cx="1210.5" cy="241" r="10" fill="#12ee12" stroke="#111" stroke-width="1.2"/>
<circle cx="1297.5" cy="197" r="10" fill="#12ee12" stroke="#111" stroke-width="1.2"/>
<line x1="1126.75" y1="484" x2="1126.75" y2="737.3" stroke="#000" stroke-width="2.6"/>
<line x1="1125.45" y1="736" x2="1313.75" y2="736" stroke="#000" stroke-width="2.6"/>
<line x1="1120.75" y1="717.3" x2="1126.75" y2="717.3" stroke="#000" stroke-width="2.3"/>
<text x="1114.5" y="728.3" font-size="31" text-anchor="end" fill="#000" font-weight="bold">0</text>
<line x1="1120.75" y1="678.58" x2="1126.75" y2="678.58" stroke="#000" stroke-width="2.3"/>
<text x="1114.5" y="689.58" font-size="31" text-anchor="end" fill="#000" font-weight="bold" textLength="33.45" lengthAdjust="spacingAndGlyphs">10</text>
<line x1="1120.75" y1="639.86" x2="1126.75" y2="639.86" stroke="#000" stroke-width="2.3"/>
<text x="1114.5" y="650.86" font-size="31" text-anchor="end" fill="#000" font-weight="bold" textLength="33.45" lengthAdjust="spacingAndGlyphs">20</text>
<line x1="1120.75" y1="601.14" x2="1126.75" y2="601.14" stroke="#000" stroke-width="2.3"/>
<text x="1114.5" y="612.14" font-size="31" text-anchor="end" fill="#000" font-weight="bold" textLength="33.45" lengthAdjust="spacingAndGlyphs">30</text>
<line x1="1120.75" y1="562.42" x2="1126.75" y2="562.42" stroke="#000" stroke-width="2.3"/>
<text x="1114.5" y="573.42" font-size="31" text-anchor="end" fill="#000" font-weight="bold" textLength="33.45" lengthAdjust="spacingAndGlyphs">40</text>
<line x1="1120.75" y1="523.7" x2="1126.75" y2="523.7" stroke="#000" stroke-width="2.3"/>
<text x="1114.5" y="534.7" font-size="31" text-anchor="end" fill="#000" font-weight="bold" textLength="33.45" lengthAdjust="spacingAndGlyphs">50</text>
<line x1="1120.75" y1="484.98" x2="1126.75" y2="484.98" stroke="#000" stroke-width="2.3"/>
<text x="1114.5" y="495.98" font-size="31" text-anchor="end" fill="#000" font-weight="bold" textLength="33.45" lengthAdjust="spacingAndGlyphs">60</text>
<line x1="1130.75" y1="736" x2="1130.75" y2="741" stroke="#000" stroke-width="2.3"/>
<line x1="1172.25" y1="736" x2="1172.25" y2="741" stroke="#000" stroke-width="2.3"/>
<line x1="1213.75" y1="736" x2="1213.75" y2="741" stroke="#000" stroke-width="2.3"/>
<line x1="1255.25" y1="736" x2="1255.25" y2="741" stroke="#000" stroke-width="2.3"/>
<line x1="1296.75" y1="736" x2="1296.75" y2="741" stroke="#000" stroke-width="2.3"/>
<text x="1130.75" y="775.5" font-size="34.6" text-anchor="middle" fill="#000" font-weight="bold">0</text>
<text x="1170" y="775.5" font-size="34.6" text-anchor="middle" fill="#000" font-weight="bold">5</text>
<text x="1210.5" y="775.5" font-size="34.6" text-anchor="middle" fill="#000" font-weight="bold">10</text>
<text x="1253.5" y="775.5" font-size="34.6" text-anchor="middle" fill="#000" font-weight="bold">15</text>
<text x="1297.5" y="775.5" font-size="34.6" text-anchor="middle" fill="#000" font-weight="bold">20</text>
<text x="1218.4" y="816" font-size="37" text-anchor="middle" fill="#000" font-weight="bold" textLength="133.29" lengthAdjust="spacingAndGlyphs">Time, (s)</text>
<g transform="translate(1051,687.4) rotate(-90)" font-weight="bold" fill="#000">
<text x="0" y="0" font-size="36" textLength="64.65" lengthAdjust="spacingAndGlyphs">(F/F</text>
<text x="66.35" y="11.7" font-size="19.5" textLength="41.15" lengthAdjust="spacingAndGlyphs">Iono</text>
<text x="108.3" y="0" font-size="36" textLength="84.34" lengthAdjust="spacingAndGlyphs">)*100</text>
</g>
<line x1="1214.25" y1="566" x2="1214.25" y2="682.75" stroke="#000" stroke-width="2.2"/>
<line x1="1200.75" y1="566" x2="1227.75" y2="566" stroke="#000" stroke-width="2.2"/>
<line x1="1200.75" y1="666" x2="1227.75" y2="666" stroke="#000" stroke-width="2.2"/>
<line x1="1200.75" y1="682.75" x2="1227.75" y2="682.75" stroke="#000" stroke-width="2.2"/>
<line x1="1214.25" y1="712.5" x2="1214.25" y2="720.5" stroke="#000" stroke-width="2.2"/>
<line x1="1200.75" y1="712.5" x2="1227.75" y2="712.5" stroke="#000" stroke-width="2.2"/>
<line x1="1200.75" y1="716.5" x2="1227.75" y2="716.5" stroke="#000" stroke-width="2.2"/>
<line x1="1200.75" y1="720.5" x2="1227.75" y2="720.5" stroke="#000" stroke-width="2.2"/>
<line x1="1296.75" y1="518" x2="1296.75" y2="708.5" stroke="#000" stroke-width="2.2"/>
<line x1="1284.25" y1="518" x2="1309.25" y2="518" stroke="#000" stroke-width="2.2"/>
<line x1="1284.25" y1="590.75" x2="1309.25" y2="590.75" stroke="#000" stroke-width="2.2"/>
<line x1="1284.25" y1="632.5" x2="1309.25" y2="632.5" stroke="#000" stroke-width="2.2"/>
<line x1="1284.25" y1="637" x2="1309.25" y2="637" stroke="#000" stroke-width="2.2"/>
<line x1="1284.25" y1="680.75" x2="1309.25" y2="680.75" stroke="#000" stroke-width="2.2"/>
<line x1="1284.25" y1="708.5" x2="1309.25" y2="708.5" stroke="#000" stroke-width="2.2"/>
<circle cx="1130.75" cy="716" r="10" fill="#000" stroke="#000" stroke-width="1"/>
<circle cx="1214.25" cy="694" r="10" fill="#fff" stroke="#000" stroke-width="1.5"/>
<circle cx="1296.75" cy="649" r="10" fill="#fff" stroke="#000" stroke-width="1.5"/>
<line x1="1130.75" y1="716" x2="1296.75" y2="575" stroke="#000" stroke-width="4.6" stroke-dasharray="21 9"/>
<circle cx="1214.25" cy="624.5" r="10.5" fill="#000" stroke="#000" stroke-width="1"/>
<circle cx="1296.75" cy="575" r="10.5" fill="#000" stroke="#000" stroke-width="1"/>
<line x1="1130.75" y1="718" x2="1296.75" y2="652" stroke="#808080" stroke-width="3.6" stroke-dasharray="15 6"/>
<circle cx="1214.25" cy="715" r="10.5" fill="#12ee12" stroke="#111" stroke-width="1.2"/>
<circle cx="1296.75" cy="658" r="10.5" fill="#12ee12" stroke="#111" stroke-width="1.2"/>
<line x1="1130.75" y1="724" x2="1296.75" y2="665" stroke="#12ee12" stroke-width="3.8" stroke-dasharray="15 6"/>
<text x="1212.5" y="567.52" font-size="56" text-anchor="middle" fill="#000" font-weight="bold">*</text>
<text x="1297.5" y="516.52" font-size="56" text-anchor="middle" fill="#000" font-weight="bold">*</text>
<line x1="1497.5" y1="66.3" x2="1497.5" y2="337.65" stroke="#000" stroke-width="2.8"/>
<line x1="1493.75" y1="336.25" x2="1800.75" y2="336.25" stroke="#000" stroke-width="2.8"/>
<line x1="1491" y1="336.25" x2="1497.5" y2="336.25" stroke="#000" stroke-width="2.4"/>
<text x="1478.6" y="347.35" font-size="31.5" text-anchor="end" fill="#000" font-weight="bold" textLength="41.16" lengthAdjust="spacingAndGlyphs">0.0</text>
<line x1="1491" y1="291.55" x2="1497.5" y2="291.55" stroke="#000" stroke-width="2.4"/>
<text x="1478.6" y="302.65" font-size="31.5" text-anchor="end" fill="#000" font-weight="bold" textLength="41.16" lengthAdjust="spacingAndGlyphs">0.5</text>
<line x1="1491" y1="246.85" x2="1497.5" y2="246.85" stroke="#000" stroke-width="2.4"/>
<text x="1478.6" y="257.95" font-size="31.5" text-anchor="end" fill="#000" font-weight="bold" textLength="41.16" lengthAdjust="spacingAndGlyphs">1.0</text>
<line x1="1491" y1="202.15" x2="1497.5" y2="202.15" stroke="#000" stroke-width="2.4"/>
<text x="1478.6" y="213.25" font-size="31.5" text-anchor="end" fill="#000" font-weight="bold" textLength="41.16" lengthAdjust="spacingAndGlyphs">1.5</text>
<line x1="1491" y1="157.45" x2="1497.5" y2="157.45" stroke="#000" stroke-width="2.4"/>
<text x="1478.6" y="168.55" font-size="31.5" text-anchor="end" fill="#000" font-weight="bold" textLength="41.16" lengthAdjust="spacingAndGlyphs">2.0</text>
<line x1="1491" y1="112.75" x2="1497.5" y2="112.75" stroke="#000" stroke-width="2.4"/>
<text x="1478.6" y="123.85" font-size="31.5" text-anchor="end" fill="#000" font-weight="bold" textLength="41.16" lengthAdjust="spacingAndGlyphs">2.5</text>
<line x1="1491" y1="68.05" x2="1497.5" y2="68.05" stroke="#000" stroke-width="2.4"/>
<text x="1478.6" y="79.15" font-size="31.5" text-anchor="end" fill="#000" font-weight="bold" textLength="41.16" lengthAdjust="spacingAndGlyphs">3.0</text>
<rect x="1508.8" y="268.8" width="80.15" height="67.45" fill="#fff" stroke="#000" stroke-width="3.6" stroke-linejoin="round"/>
<rect x="1607.5" y="214.5" width="83.75" height="121.75" fill="#000"/>
<rect x="1709.1" y="262.85" width="80.55" height="73.4" fill="url(#hatch)" stroke="#000" stroke-width="3.2" stroke-linejoin="round"/>
<line x1="1511" y1="220" x2="1586.5" y2="220" stroke="#000" stroke-width="2.6" stroke-linecap="round"/>
<line x1="1548.75" y1="220" x2="1548.75" y2="267" stroke="#000" stroke-width="3"/>
<line x1="1611" y1="190" x2="1687.75" y2="190" stroke="#000" stroke-width="2.6" stroke-linecap="round"/>
<line x1="1649.38" y1="190" x2="1649.38" y2="214.5" stroke="#000" stroke-width="3"/>
<line x1="1711" y1="247.5" x2="1787.75" y2="247.5" stroke="#000" stroke-width="2.6" stroke-linecap="round"/>
<line x1="1749.38" y1="247.5" x2="1749.38" y2="261.25" stroke="#000" stroke-width="3"/>
<circle cx="1549.25" cy="311" r="12.4" fill="#fff" stroke="#444" stroke-width="1.3"/>
<circle cx="1549.25" cy="293" r="12.4" fill="#fff" stroke="#444" stroke-width="1.3"/>
<circle cx="1549.25" cy="300" r="12.4" fill="#fff" stroke="#444" stroke-width="1.3"/>
<circle cx="1549.25" cy="280" r="12.4" fill="#fff" stroke="#444" stroke-width="1.3"/>
<circle cx="1549.25" cy="231" r="12.4" fill="#fff" stroke="#444" stroke-width="1.3"/>
<circle cx="1549.25" cy="163" r="12.4" fill="#fff" stroke="#444" stroke-width="1.3"/>
<circle cx="1649.25" cy="165" r="12.3" fill="#000" stroke="#b4b4b4" stroke-width="1.5"/>
<circle cx="1649.25" cy="184" r="12.3" fill="#000" stroke="#b4b4b4" stroke-width="1.5"/>
<circle cx="1649.25" cy="200" r="12.3" fill="#000" stroke="#b4b4b4" stroke-width="1.5"/>
<circle cx="1649.25" cy="214.5" r="12.3" fill="#000" stroke="#b4b4b4" stroke-width="1.5"/>
<circle cx="1649.25" cy="232.5" r="12.3" fill="#000" stroke="#b4b4b4" stroke-width="1.5"/>
<circle cx="1649.25" cy="246" r="12.3" fill="#000" stroke="#b4b4b4" stroke-width="1.5"/>
<circle cx="1649.25" cy="251" r="12.3" fill="#000" stroke="#b4b4b4" stroke-width="1.5"/>
<circle cx="1749.5" cy="251" r="12.4" fill="#00fd00" stroke="#9a709a" stroke-width="1.4"/>
<circle cx="1749.5" cy="257.5" r="12.4" fill="#00fd00" stroke="#9a709a" stroke-width="1.4"/>
<circle cx="1749.5" cy="273.75" r="12.4" fill="#00fd00" stroke="#9a709a" stroke-width="1.4"/>
<circle cx="1749.5" cy="285" r="12.4" fill="#00fd00" stroke="#9a709a" stroke-width="1.4"/>
<rect x="1527.5" y="60.75" width="208.5" height="7.25" fill="#000"/>
<text x="1632" y="46" font-size="34.7" text-anchor="middle" fill="#000" font-weight="bold" textLength="39.28" lengthAdjust="spacingAndGlyphs">ns</text>
<text x="1579.2" y="123.72" font-size="56" text-anchor="middle" fill="#000" font-weight="bold" letter-spacing="1.2">**</text>
<rect x="1528" y="118" width="105" height="7.75" fill="#000"/>
<text x="1684.8" y="109.12" font-size="56" text-anchor="middle" fill="#000" font-weight="bold">*</text>
<rect x="1629" y="96.75" width="103.5" height="6.75" fill="#000"/>
<text x="0" y="0" font-size="31.5" text-anchor="middle" fill="#000" font-weight="bold" transform="translate(1370.6,207.2) rotate(-90)">Slope</text>
<text transform="translate(1410.3,206.8) rotate(-90)" font-size="32" font-weight="bold" text-anchor="middle">(amplitude units*s<tspan font-size="17" dy="-12">-1</tspan><tspan dy="12">)</tspan></text>
<line x1="1489.5" y1="471.8" x2="1489.5" y2="738.9" stroke="#000" stroke-width="2.8"/>
<line x1="1486.25" y1="737.5" x2="1791.25" y2="737.5" stroke="#000" stroke-width="2.8"/>
<line x1="1483" y1="737.5" x2="1489.5" y2="737.5" stroke="#000" stroke-width="2.4"/>
<text x="1472.1" y="748.6" font-size="31.5" text-anchor="end" fill="#000" font-weight="bold" textLength="41.16" lengthAdjust="spacingAndGlyphs">0.0</text>
<line x1="1483" y1="693.5" x2="1489.5" y2="693.5" stroke="#000" stroke-width="2.4"/>
<text x="1472.1" y="704.6" font-size="31.5" text-anchor="end" fill="#000" font-weight="bold" textLength="41.16" lengthAdjust="spacingAndGlyphs">0.5</text>
<line x1="1483" y1="649.5" x2="1489.5" y2="649.5" stroke="#000" stroke-width="2.4"/>
<text x="1472.1" y="660.6" font-size="31.5" text-anchor="end" fill="#000" font-weight="bold" textLength="41.16" lengthAdjust="spacingAndGlyphs">1.0</text>
<line x1="1483" y1="605.5" x2="1489.5" y2="605.5" stroke="#000" stroke-width="2.4"/>
<text x="1472.1" y="616.6" font-size="31.5" text-anchor="end" fill="#000" font-weight="bold" textLength="41.16" lengthAdjust="spacingAndGlyphs">1.5</text>
<line x1="1483" y1="561.5" x2="1489.5" y2="561.5" stroke="#000" stroke-width="2.4"/>
<text x="1472.1" y="572.6" font-size="31.5" text-anchor="end" fill="#000" font-weight="bold" textLength="41.16" lengthAdjust="spacingAndGlyphs">2.0</text>
<line x1="1483" y1="517.5" x2="1489.5" y2="517.5" stroke="#000" stroke-width="2.4"/>
<text x="1472.1" y="528.6" font-size="31.5" text-anchor="end" fill="#000" font-weight="bold" textLength="41.16" lengthAdjust="spacingAndGlyphs">2.5</text>
<line x1="1483" y1="473.5" x2="1489.5" y2="473.5" stroke="#000" stroke-width="2.4"/>
<text x="1472.1" y="484.6" font-size="31.5" text-anchor="end" fill="#000" font-weight="bold" textLength="41.16" lengthAdjust="spacingAndGlyphs">3.0</text>
<rect x="1501.8" y="654.8" width="78.9" height="82.7" fill="#fff" stroke="#000" stroke-width="3.6" stroke-linejoin="round"/>
<rect x="1598.75" y="573.75" width="83.25" height="163.75" fill="#000"/>
<rect x="1699.85" y="661.6" width="80.55" height="75.9" fill="url(#hatch)" stroke="#000" stroke-width="3.2" stroke-linejoin="round"/>
<line x1="1503.5" y1="632.5" x2="1579" y2="632.5" stroke="#000" stroke-width="2.6" stroke-linecap="round"/>
<line x1="1541.25" y1="632.5" x2="1541.25" y2="653" stroke="#000" stroke-width="3"/>
<line x1="1602.75" y1="526" x2="1678" y2="526" stroke="#000" stroke-width="2.6" stroke-linecap="round"/>
<line x1="1640.38" y1="526" x2="1640.38" y2="573.75" stroke="#000" stroke-width="3"/>
<line x1="1702.25" y1="643" x2="1777.75" y2="643" stroke="#000" stroke-width="2.6" stroke-linecap="round"/>
<line x1="1740" y1="643" x2="1740" y2="660" stroke="#000" stroke-width="3"/>
<circle cx="1540.5" cy="618" r="12.4" fill="#fff" stroke="#444" stroke-width="1.3"/>
<circle cx="1540.5" cy="650" r="12.4" fill="#fff" stroke="#444" stroke-width="1.3"/>
<circle cx="1540.5" cy="662" r="12.4" fill="#fff" stroke="#444" stroke-width="1.3"/>
<circle cx="1540.5" cy="675.5" r="12.4" fill="#fff" stroke="#444" stroke-width="1.3"/>
<circle cx="1540.5" cy="634.5" r="12.4" fill="#fff" stroke="#444" stroke-width="1.3"/>
<circle cx="1640.75" cy="521" r="12.3" fill="#000" stroke="#b4b4b4" stroke-width="1.5"/>
<circle cx="1640.75" cy="531" r="12.3" fill="#000" stroke="#b4b4b4" stroke-width="1.5"/>
<circle cx="1640.75" cy="547" r="12.3" fill="#000" stroke="#b4b4b4" stroke-width="1.5"/>
<circle cx="1640.75" cy="564" r="12.3" fill="#000" stroke="#b4b4b4" stroke-width="1.5"/>
<circle cx="1640.75" cy="578.75" r="12.3" fill="#000" stroke="#b4b4b4" stroke-width="1.5"/>
<circle cx="1640.75" cy="615.5" r="12.3" fill="#000" stroke="#b4b4b4" stroke-width="1.5"/>
<circle cx="1640.75" cy="660" r="12.3" fill="#000" stroke="#b4b4b4" stroke-width="1.5"/>
<circle cx="1740.75" cy="677" r="12.4" fill="#00fd00" stroke="#9a709a" stroke-width="1.4"/>
<circle cx="1740.75" cy="662.5" r="12.4" fill="#00fd00" stroke="#9a709a" stroke-width="1.4"/>
<circle cx="1740.75" cy="641.25" r="12.4" fill="#00fd00" stroke="#9a709a" stroke-width="1.4"/>
<rect x="1529.25" y="430" width="209.5" height="9.5" fill="#000"/>
<text x="1633.75" y="424.5" font-size="34.7" text-anchor="middle" fill="#000" font-weight="bold" textLength="39.28" lengthAdjust="spacingAndGlyphs">ns</text>
<text x="1582.25" y="498.82" font-size="56" text-anchor="middle" fill="#000" font-weight="bold">*</text>
<rect x="1530.5" y="495" width="105" height="7" fill="#000"/>
<text x="1687.25" y="483.32" font-size="56" text-anchor="middle" fill="#000" font-weight="bold">*</text>
<rect x="1631" y="474" width="105" height="8" fill="#000"/>
<text x="0" y="0" font-size="31.5" text-anchor="middle" fill="#000" font-weight="bold" transform="translate(1369.8,605) rotate(-90)">Slope</text>
<text transform="translate(1410.3,604.4) rotate(-90)" font-size="32" font-weight="bold" text-anchor="middle">(amplitude units*s<tspan font-size="17" dy="-12">-1</tspan><tspan dy="12">)</tspan></text>
<line x1="1965.4" y1="78.8" x2="1965.4" y2="343.5" stroke="#000" stroke-width="2.8"/>
<line x1="1960.7" y1="342.1" x2="2467" y2="342.1" stroke="#000" stroke-width="2.8"/>
<line x1="1958.9" y1="342.1" x2="1965.4" y2="342.1" stroke="#000" stroke-width="2.4"/>
<text x="1952.6" y="355" font-size="37.4" text-anchor="end" fill="#000" font-weight="bold">0</text>
<line x1="1958.9" y1="289.76" x2="1965.4" y2="289.76" stroke="#000" stroke-width="2.4"/>
<text x="1952.6" y="302.66" font-size="37.4" text-anchor="end" fill="#000" font-weight="bold" textLength="39.52" lengthAdjust="spacingAndGlyphs">20</text>
<line x1="1958.9" y1="237.42" x2="1965.4" y2="237.42" stroke="#000" stroke-width="2.4"/>
<text x="1952.6" y="250.32" font-size="37.4" text-anchor="end" fill="#000" font-weight="bold" textLength="39.52" lengthAdjust="spacingAndGlyphs">40</text>
<line x1="1958.9" y1="185.08" x2="1965.4" y2="185.08" stroke="#000" stroke-width="2.4"/>
<text x="1952.6" y="197.98" font-size="37.4" text-anchor="end" fill="#000" font-weight="bold" textLength="39.52" lengthAdjust="spacingAndGlyphs">60</text>
<line x1="1958.9" y1="132.74" x2="1965.4" y2="132.74" stroke="#000" stroke-width="2.4"/>
<text x="1952.6" y="145.64" font-size="37.4" text-anchor="end" fill="#000" font-weight="bold" textLength="39.52" lengthAdjust="spacingAndGlyphs">80</text>
<line x1="1958.9" y1="80.4" x2="1965.4" y2="80.4" stroke="#000" stroke-width="2.4"/>
<text x="1952.6" y="93.3" font-size="37.4" text-anchor="end" fill="#000" font-weight="bold" textLength="59.28" lengthAdjust="spacingAndGlyphs">100</text>
<rect x="1990.4" y="311.7" width="74.3" height="30.4" fill="#fff" stroke="#000" stroke-width="3.6" stroke-linejoin="round"/>
<rect x="2113.8" y="216.4" width="78.4" height="125.7" fill="#000"/>
<rect x="2240.3" y="290.1" width="75.3" height="52" fill="url(#hatch)" stroke="#000" stroke-width="3.2" stroke-linejoin="round"/>
<rect x="2364.4" y="336.4" width="78" height="5.7" fill="#000"/>
<line x1="1991.5" y1="289.9" x2="2063.5" y2="289.9" stroke="#000" stroke-width="2.6" stroke-linecap="round"/>
<line x1="2027.5" y1="289.9" x2="2027.5" y2="309.9" stroke="#000" stroke-width="3"/>
<line x1="2116.4" y1="178.2" x2="2188.7" y2="178.2" stroke="#000" stroke-width="2.6" stroke-linecap="round"/>
<line x1="2152.55" y1="178.2" x2="2152.55" y2="216.4" stroke="#000" stroke-width="3"/>
<line x1="2241.9" y1="276.2" x2="2314.2" y2="276.2" stroke="#000" stroke-width="2.6" stroke-linecap="round"/>
<line x1="2278.05" y1="276.2" x2="2278.05" y2="288.5" stroke="#000" stroke-width="3"/>
<line x1="2367.4" y1="324.3" x2="2439.2" y2="324.3" stroke="#000" stroke-width="2.6" stroke-linecap="round"/>
<line x1="2403.3" y1="324.3" x2="2403.3" y2="336.4" stroke="#000" stroke-width="3"/>
<circle cx="2026.8" cy="270.8" r="12.4" fill="#fff" stroke="#444" stroke-width="1.3"/>
<circle cx="2026.8" cy="299.7" r="12.4" fill="#fff" stroke="#444" stroke-width="1.3"/>
<circle cx="2026.8" cy="307" r="12.4" fill="#fff" stroke="#444" stroke-width="1.3"/>
<circle cx="2026.8" cy="326" r="12.4" fill="#fff" stroke="#444" stroke-width="1.3"/>
<circle cx="2026.8" cy="320.8" r="12.4" fill="#fff" stroke="#444" stroke-width="1.3"/>
<circle cx="2153.1" cy="106" r="12.3" fill="#000" stroke="#b4b4b4" stroke-width="1.5"/>
<circle cx="2153.1" cy="115.5" r="12.3" fill="#000" stroke="#b4b4b4" stroke-width="1.5"/>
<circle cx="2153.1" cy="192.3" r="12.3" fill="#000" stroke="#b4b4b4" stroke-width="1.5"/>
<circle cx="2153.1" cy="200" r="12.3" fill="#000" stroke="#b4b4b4" stroke-width="1.5"/>
<circle cx="2153.1" cy="218.3" r="12.3" fill="#000" stroke="#b4b4b4" stroke-width="1.5"/>
<circle cx="2153.1" cy="239.6" r="12.3" fill="#000" stroke="#b4b4b4" stroke-width="1.5"/>
<circle cx="2153.1" cy="253.8" r="12.3" fill="#000" stroke="#b4b4b4" stroke-width="1.5"/>
<circle cx="2153.1" cy="271.6" r="12.3" fill="#000" stroke="#b4b4b4" stroke-width="1.5"/>
<circle cx="2278.3" cy="304.4" r="12.4" fill="#00fd00" stroke="#9a709a" stroke-width="1.4"/>
<circle cx="2278.3" cy="297.5" r="12.4" fill="#00fd00" stroke="#9a709a" stroke-width="1.4"/>
<circle cx="2278.3" cy="272.4" r="12.4" fill="#00fd00" stroke="#9a709a" stroke-width="1.4"/>
<circle cx="2404.6" cy="333.1" r="12.4" fill="#c3c3c3" stroke="#8c8c8c" stroke-width="1.4"/>
<circle cx="2404.6" cy="338.6" r="12.4" fill="#c3c3c3" stroke="#8c8c8c" stroke-width="1.4"/>
<rect x="1993.2" y="347.3" width="328.1" height="10.4" fill="#000"/>
<text x="2161" y="385.6" font-size="30.5" text-anchor="middle" fill="#000" font-weight="bold" textLength="137.45" lengthAdjust="spacingAndGlyphs">Wild-Type</text>
<text x="2407.5" y="378.2" font-size="30" text-anchor="middle" fill="#000" font-weight="bold" textLength="165" lengthAdjust="spacingAndGlyphs">CatSper KO</text>
<text x="2273.9" y="42.32" font-size="56" text-anchor="middle" fill="#000" font-weight="bold" letter-spacing="1.2">***</text>
<rect x="2144.8" y="28.5" width="250.1" height="6.7" fill="#000"/>
<text x="2150.4" y="59.2" font-size="34.7" text-anchor="middle" fill="#000" font-weight="bold" textLength="38.47" lengthAdjust="spacingAndGlyphs">ns</text>
<rect x="2026.5" y="62.2" width="247.1" height="7.5" fill="#000"/>
<text x="2091.3" y="108.72" font-size="56" text-anchor="middle" fill="#000" font-weight="bold">*</text>
<text x="2217.3" y="108.72" font-size="56" text-anchor="middle" fill="#000" font-weight="bold">*</text>
<rect x="2026.5" y="91.7" width="110.4" height="7.5" fill="#000"/>
<rect x="2168.2" y="91.7" width="105.4" height="7.5" fill="#000"/>
<text x="0" y="0" font-size="29.5" text-anchor="middle" fill="#000" font-weight="bold" transform="translate(1861.8,208.9) rotate(-90)" textLength="279.31" lengthAdjust="spacingAndGlyphs">% Cells Responding</text>
<text x="0" y="0" font-size="29.3" text-anchor="middle" fill="#000" font-weight="bold" transform="translate(1897.3,204.1) rotate(-90)" textLength="133.1" lengthAdjust="spacingAndGlyphs">to KCl 7.4</text>
<line x1="1976.3" y1="469.8" x2="1976.3" y2="732.8" stroke="#000" stroke-width="2.8"/>
<line x1="1970.8" y1="731.4" x2="2475.7" y2="731.4" stroke="#000" stroke-width="2.8"/>
<line x1="1969.8" y1="731.4" x2="1976.3" y2="731.4" stroke="#000" stroke-width="2.4"/>
<text x="1960.9" y="744.3" font-size="37.4" text-anchor="end" fill="#000" font-weight="bold">0</text>
<line x1="1969.8" y1="679.52" x2="1976.3" y2="679.52" stroke="#000" stroke-width="2.4"/>
<text x="1960.9" y="692.42" font-size="37.4" text-anchor="end" fill="#000" font-weight="bold" textLength="39.52" lengthAdjust="spacingAndGlyphs">20</text>
<line x1="1969.8" y1="627.64" x2="1976.3" y2="627.64" stroke="#000" stroke-width="2.4"/>
<text x="1960.9" y="640.54" font-size="37.4" text-anchor="end" fill="#000" font-weight="bold" textLength="39.52" lengthAdjust="spacingAndGlyphs">40</text>
<line x1="1969.8" y1="575.76" x2="1976.3" y2="575.76" stroke="#000" stroke-width="2.4"/>
<text x="1960.9" y="588.66" font-size="37.4" text-anchor="end" fill="#000" font-weight="bold" textLength="39.52" lengthAdjust="spacingAndGlyphs">60</text>
<line x1="1969.8" y1="523.88" x2="1976.3" y2="523.88" stroke="#000" stroke-width="2.4"/>
<text x="1960.9" y="536.78" font-size="37.4" text-anchor="end" fill="#000" font-weight="bold" textLength="39.52" lengthAdjust="spacingAndGlyphs">80</text>
<line x1="1969.8" y1="472" x2="1976.3" y2="472" stroke="#000" stroke-width="2.4"/>
<text x="1960.9" y="484.9" font-size="37.4" text-anchor="end" fill="#000" font-weight="bold" textLength="59.28" lengthAdjust="spacingAndGlyphs">100</text>
<rect x="2001.3" y="647.4" width="74.3" height="84" fill="#fff" stroke="#000" stroke-width="3.6" stroke-linejoin="round"/>
<rect x="2123.9" y="579" width="77.9" height="152.4" fill="#000"/>
<rect x="2250.4" y="675.9" width="75" height="55.5" fill="url(#hatch)" stroke="#000" stroke-width="3.2" stroke-linejoin="round"/>
<rect x="2375" y="725.2" width="74.9" height="6.2" fill="#fff" stroke="#000" stroke-width="3" stroke-linejoin="round"/>
<line x1="2001.9" y1="621.5" x2="2075" y2="621.5" stroke="#000" stroke-width="2.6" stroke-linecap="round"/>
<line x1="2038.45" y1="621.5" x2="2038.45" y2="645.6" stroke="#000" stroke-width="3"/>
<line x1="2125.7" y1="523" x2="2199.4" y2="523" stroke="#000" stroke-width="2.6" stroke-linecap="round"/>
<line x1="2162.55" y1="523" x2="2162.55" y2="579" stroke="#000" stroke-width="3"/>
<line x1="2251.4" y1="650.8" x2="2324.4" y2="650.8" stroke="#000" stroke-width="2.6" stroke-linecap="round"/>
<line x1="2287.9" y1="650.8" x2="2287.9" y2="674.3" stroke="#000" stroke-width="3"/>
<line x1="2375" y1="718.6" x2="2449.5" y2="718.6" stroke="#000" stroke-width="2.6" stroke-linecap="round"/>
<line x1="2412.25" y1="718.6" x2="2412.25" y2="724" stroke="#000" stroke-width="3"/>
<circle cx="2038.3" cy="616" r="12.4" fill="#fff" stroke="#444" stroke-width="1.3"/>
<circle cx="2038.3" cy="620.7" r="12.4" fill="#fff" stroke="#444" stroke-width="1.3"/>
<circle cx="2038.3" cy="633.3" r="12.4" fill="#fff" stroke="#444" stroke-width="1.3"/>
<circle cx="2038.3" cy="681" r="12.4" fill="#fff" stroke="#444" stroke-width="1.3"/>
<circle cx="2038.3" cy="668" r="12.4" fill="#fff" stroke="#444" stroke-width="1.3"/>
<circle cx="2038.3" cy="657" r="12.4" fill="#fff" stroke="#444" stroke-width="1.3"/>
<circle cx="2162.6" cy="512.6" r="12.3" fill="#000" stroke="#b4b4b4" stroke-width="1.5"/>
<circle cx="2162.6" cy="525" r="12.3" fill="#000" stroke="#b4b4b4" stroke-width="1.5"/>
<circle cx="2162.6" cy="556.3" r="12.3" fill="#000" stroke="#b4b4b4" stroke-width="1.5"/>
<circle cx="2162.6" cy="587.8" r="12.3" fill="#000" stroke="#b4b4b4" stroke-width="1.5"/>
<circle cx="2162.6" cy="584" r="12.3" fill="#000" stroke="#b4b4b4" stroke-width="1.5"/>
<circle cx="2162.6" cy="576.4" r="12.3" fill="#000" stroke="#b4b4b4" stroke-width="1.5"/>
<circle cx="2162.6" cy="636" r="12.3" fill="#000" stroke="#b4b4b4" stroke-width="1.5"/>
<circle cx="2162.6" cy="671.3" r="12.3" fill="#000" stroke="#b4b4b4" stroke-width="1.5"/>
<circle cx="2287.4" cy="700.8" r="12.4" fill="#00fd00" stroke="#9a709a" stroke-width="1.4"/>
<circle cx="2287.4" cy="672.9" r="12.4" fill="#00fd00" stroke="#9a709a" stroke-width="1.4"/>
<circle cx="2287.4" cy="651.6" r="12.4" fill="#00fd00" stroke="#9a709a" stroke-width="1.4"/>
<circle cx="2412.3" cy="717.2" r="12.4" fill="#c3c3c3" stroke="#8c8c8c" stroke-width="1.4"/>
<circle cx="2412.3" cy="724" r="12.4" fill="#c3c3c3" stroke="#8c8c8c" stroke-width="1.4"/>
<circle cx="2412.3" cy="730.9" r="12.4" fill="#c3c3c3" stroke="#8c8c8c" stroke-width="1.4"/>
<rect x="1999.5" y="741" width="328.5" height="10.4" fill="#000"/>
<text x="2167.2" y="779.5" font-size="30.5" text-anchor="middle" fill="#000" font-weight="bold" textLength="137.45" lengthAdjust="spacingAndGlyphs">Wild-Type</text>
<text x="2413.4" y="771.9" font-size="30" text-anchor="middle" fill="#000" font-weight="bold" textLength="165" lengthAdjust="spacingAndGlyphs">CatSper KO</text>
<text x="2286" y="428.62" font-size="56" text-anchor="middle" fill="#000" font-weight="bold" letter-spacing="1.2">***</text>
<rect x="2157.3" y="417.8" width="249.9" height="7.2" fill="#000"/>
<text x="2162.5" y="452" font-size="34.7" text-anchor="middle" fill="#000" font-weight="bold" textLength="38.47" lengthAdjust="spacingAndGlyphs">ns</text>
<rect x="2038.6" y="458.5" width="247.4" height="7.9" fill="#000"/>
<text x="2101.75" y="507.02" font-size="56" text-anchor="middle" fill="#000" font-weight="bold">*</text>
<text x="2229.6" y="507.02" font-size="56" text-anchor="middle" fill="#000" font-weight="bold">*</text>
<rect x="2038.6" y="489.3" width="119.4" height="7.4" fill="#000"/>
<rect x="2168.2" y="489.3" width="117.8" height="7.4" fill="#000"/>
<text x="0" y="0" font-size="29.7" text-anchor="middle" fill="#000" font-weight="bold" transform="translate(1864.3,606) rotate(-90)" textLength="281.2" lengthAdjust="spacingAndGlyphs">% Cells Responding</text>
<text x="0" y="0" font-size="29.5" text-anchor="middle" fill="#000" font-weight="bold" transform="translate(1899.8,602.4) rotate(-90)" textLength="134.01" lengthAdjust="spacingAndGlyphs">to KCl 8.6</text>
<circle cx="1403.5" cy="817.2" r="13.6" fill="#fff" stroke="#000" stroke-width="3.6"/>
<text x="1423.3" y="829.3" font-size="36" text-anchor="start" fill="#000" font-weight="bold" textLength="124.77" lengthAdjust="spacingAndGlyphs">Control</text>
<circle cx="1579.8" cy="816.5" r="15.4" fill="#000" stroke="#000" stroke-width="0"/>
<text x="1603.6" y="829.3" font-size="36" font-weight="bold" fill="#000" textLength="208.02" lengthAdjust="spacingAndGlyphs">Pre-inc HCO</text>
<text x="1811.03" y="840.59" font-size="20.43" font-weight="bold" fill="#000">3</text>
<text x="1821.52" y="818.99" font-size="25.3" font-weight="bold" fill="#000">-</text>
<circle cx="1859.7" cy="817.5" r="15.2" fill="#00fe00" stroke="#00fe00" stroke-width="0"/>
<text x="1883.2" y="829.3" font-size="36" font-weight="bold" fill="#000" textLength="79.2" lengthAdjust="spacingAndGlyphs">HCO</text>
<text x="1961.81" y="840.59" font-size="20.43" font-weight="bold" fill="#000">3</text>
<text x="1972.3" y="818.99" font-size="25.3" font-weight="bold" fill="#000">-</text>
<text x="1986.53" y="829.3" font-size="36" font-weight="bold" fill="#000" textLength="87.85" lengthAdjust="spacingAndGlyphs">+ PKI</text>
<circle cx="2112.9" cy="817.2" r="15.4" fill="#c0c0c0" stroke="#c0c0c0" stroke-width="0"/>
<text x="2136.2" y="829.3" font-size="36" font-weight="bold" fill="#000" textLength="317.9" lengthAdjust="spacingAndGlyphs">CatSper KO + HCO</text>
<text x="2453.52" y="840.59" font-size="20.43" font-weight="bold" fill="#000">3</text>
<text x="2464" y="818.99" font-size="25.3" font-weight="bold" fill="#000">-</text>
</svg>
</body></html>
